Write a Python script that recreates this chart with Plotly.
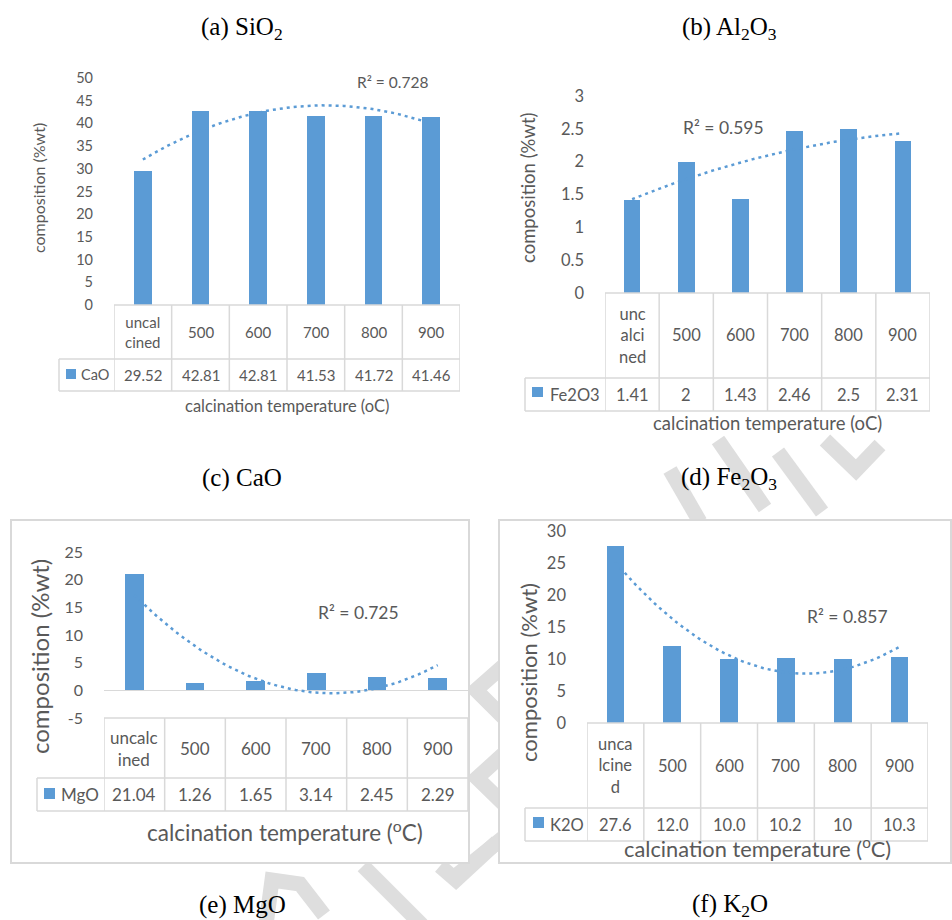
import numpy as np
import plotly.graph_objects as go

# ---------------- data ----------------
temps = ["uncalcined", "500", "600", "700", "800", "900"]

cao_values = [29.52, 42.81, 42.81, 41.53, 41.72, 41.46]
cao_labels = ["29.52", "42.81", "42.81", "41.53", "41.72", "41.46"]
cao_header = ["uncal<br>cined", "500", "600", "700", "800", "900"]

fe2o3_values = [1.41, 2.0, 1.43, 2.46, 2.5, 2.31]
fe2o3_labels = ["1.41", "2", "1.43", "2.46", "2.5", "2.31"]
fe2o3_header = ["unc<br>alci<br>ned", "500", "600", "700", "800", "900"]

mgo_values = [21.04, 1.26, 1.65, 3.14, 2.45, 2.29]
mgo_labels = ["21.04", "1.26", "1.65", "3.14", "2.45", "2.29"]
mgo_header = ["uncalc<br>ined", "500", "600", "700", "800", "900"]
mgo_ticks = [-5, 0, 5, 10, 15, 20, 25]
mgo_ticktext = ["-5", "0", "5", "10", "15", "20", "25"]

k2o_values = [27.6, 12.0, 10.0, 10.2, 10.0, 10.3]
k2o_labels = ["27.6", "12.0", "10.0", "10.2", "10", "10.3"]
k2o_header = ["unca<br>lcine<br>d", "500", "600", "700", "800", "900"]

series_names = ["CaO", "Fe2O3", "MgO", "K2O"]
r2_texts = ["R² = 0.728", "R² = 0.595", "R² = 0.725", "R² = 0.857"]
panel_titles = ["(a) SiO<sub>2</sub>", "(b) Al<sub>2</sub>O<sub>3</sub>", "(c) CaO",
                "(d) Fe<sub>2</sub>O<sub>3</sub>", "(e) MgO", "(f) K<sub>2</sub>O"]

# ---------------- style / layout ----------------
W, H = 952, 920
BLUE = "#5B9BD5"
GRAY = "#595959"
LINE = "#D9D9D9"
WMARK = "#DEDEDE"
FONT = "Lato"
SERIF = "Liberation Serif"


def px(x):
    return x / W


def py(y):
    return 1 - y / H


panels = [
    dict(values=cao_values, labels=cao_labels, header=cao_header, name=series_names[0], r2=r2_texts[0],
         xdom=(114, 460), ypx=(305, 78), yrange=[0, 50], dtick=5, zeroline=False, ticks=None,
         ttop=305, thb=359, tdb=391, legleft=59, sq=(66, 369, 76, 379), legtext=79,
         ytitle=(38, 188), xtitle=(287, 406), xtitle_text="calcination temperature (oC)",
         r2pos=(392, 82), fs=dict(tick=14.5, table=15, yt=16, xt=16.5, r2=15.5, leg=14.5)),
    dict(values=fe2o3_values, labels=fe2o3_labels, header=fe2o3_header, name=series_names[1], r2=r2_texts[1],
         xdom=(605, 930), ypx=(293, 96), yrange=[0, 3], dtick=0.5, zeroline=False, ticks=None,
         ttop=293, thb=378, tdb=411, legleft=525, sq=(532, 387, 543, 397), legtext=548,
         ytitle=(528, 188), xtitle=(767, 423), xtitle_text="calcination temperature (oC)",
         r2pos=(723, 128), fs=dict(tick=16.5, table=16.5, yt=18.5, xt=18.5, r2=17.5, leg=16.5)),
    dict(values=mgo_values, labels=mgo_labels, header=mgo_header, name=series_names[2], r2=r2_texts[2],
         xdom=(104, 468), ypx=(718, 552), yrange=[-5, 25], dtick=5, zeroline=True,
         ticks=(mgo_ticks, mgo_ticktext),
         ttop=718, thb=778, tdb=811, legleft=37, sq=(44, 788, 55, 799), legtext=59,
         ytitle=(39, 657), xtitle=(285, 831), xtitle_text="calcination temperature (<sup>o</sup>C)",
         r2pos=(358, 612), fs=dict(tick=16, table=17, yt=24, xt=22.5, r2=17.5, leg=17)),
    dict(values=k2o_values, labels=k2o_labels, header=k2o_header, name=series_names[3], r2=r2_texts[3],
         xdom=(587, 928), ypx=(723, 531), yrange=[0, 30], dtick=5, zeroline=False, ticks=None,
         ttop=723, thb=808, tdb=841, legleft=525, sq=(533, 817, 544, 828), legtext=548,
         ytitle=(528, 673), xtitle=(757, 847), xtitle_text="calcination temperature (<sup>o</sup>C)",
         r2pos=(847, 616), fs=dict(tick=16.5, table=16.5, yt=22, xt=21.8, r2=17.5, leg=16.5)),
]

fig = go.Figure()
shapes = []
annotations = []

# light-grey watermark strokes (decorative), drawn first so the chart boxes hide them
wm_paths = [
    [(670, 470), (700, 522)],
    [(718, 440), (765, 508)],
    [(778, 452), (822, 512)],
    [(825, 440), (856, 470), (880, 445)],
    [(510, 660), (476, 690), (510, 724)],
    [(510, 748), (477, 778), (510, 810)],
    [(510, 832), (458, 874)],
    [(363, 866), (422, 925)],
    [(440, 866), (456, 880), (497, 842)],
    [(266, 925), (272, 880), (300, 884), (324, 915)],
]
for pts in wm_paths:
    path = "M " + " L ".join(f"{px(x):.5f},{py(y):.5f}" for x, y in pts)
    shapes.append(dict(type="path", xref="paper", yref="paper", path=path, layer="below",
                       line=dict(color=WMARK, width=15)))

# boxes (white) around lower two charts
shapes.append(dict(type="rect", xref="paper", yref="paper", x0=px(11), x1=px(469), y0=py(863), y1=py(520),
                   line=dict(color=LINE, width=2), fillcolor="white", layer="below"))
shapes.append(dict(type="rect", xref="paper", yref="paper", x0=px(499), x1=px(951), y0=py(863), y1=py(520),
                   line=dict(color=LINE, width=2), fillcolor="white", layer="below"))

for i, p in enumerate(panels, start=1):
    xa = "x" if i == 1 else f"x{i}"
    ya = "y" if i == 1 else f"y{i}"
    xpos = list(range(len(p["values"])))

    fig.add_trace(go.Bar(x=xpos, y=p["values"], width=0.31, marker=dict(color=BLUE, line=dict(width=0)),
                         xaxis=xa, yaxis=ya, showlegend=False, hoverinfo="skip"))

    # order-2 polynomial trendline fitted to the data (as in the spreadsheet chart)
    coef = np.polyfit(xpos, p["values"], 2)
    xs = np.linspace(0, len(xpos) - 1, 80)
    fig.add_trace(go.Scatter(x=xs, y=np.polyval(coef, xs), mode="lines",
                             line=dict(color=BLUE, width=2.5, dash="3px,4px"),
                             xaxis=xa, yaxis=ya, showlegend=False, hoverinfo="skip"))

    fs = p["fs"]
    xkey = "xaxis" if i == 1 else f"xaxis{i}"
    ykey = "yaxis" if i == 1 else f"yaxis{i}"
    fig.layout[xkey] = dict(domain=[px(p["xdom"][0]), px(p["xdom"][1])], range=[-0.5, 5.5],
                            showticklabels=False, showgrid=False, zeroline=False, showline=False,
                            ticks="", anchor=ya, fixedrange=True, automargin=False)
    ycfg = dict(domain=[py(p["ypx"][0]), py(p["ypx"][1])], range=p["yrange"],
                dtick=p["dtick"], tick0=0, showgrid=False, zeroline=p["zeroline"],
                zerolinecolor=LINE, zerolinewidth=1.3, showline=False, ticks="",
                ticklabelstandoff=20, tickfont=dict(family=FONT, size=fs["tick"], color=GRAY),
                anchor=xa, fixedrange=True, automargin=False)
    if p["ticks"] is not None:
        ycfg.update(tickmode="array", tickvals=p["ticks"][0], ticktext=p["ticks"][1])
    fig.layout[ykey] = ycfg

    xr = xa
    # table lines
    shapes.append(dict(type="line", xref=xr, yref="paper", x0=-0.5, x1=5.5, y0=py(p["ttop"]), y1=py(p["ttop"]),
                       line=dict(color=LINE, width=1.5)))
    for yy in (p["thb"], p["tdb"]):
        shapes.append(dict(type="line", xref="paper", yref="paper", x0=px(p["legleft"]), x1=px(p["xdom"][1]),
                           y0=py(yy), y1=py(yy), line=dict(color=LINE, width=1.5)))
    for k in range(7):
        shapes.append(dict(type="line", xref=xr, yref="paper", x0=k - 0.5, x1=k - 0.5,
                           y0=py(p["ttop"]), y1=py(p["tdb"]), line=dict(color=LINE, width=1.5)))
    shapes.append(dict(type="line", xref="paper", yref="paper", x0=px(p["legleft"]), x1=px(p["legleft"]),
                       y0=py(p["thb"]), y1=py(p["tdb"]), line=dict(color=LINE, width=1.5)))
    # legend key
    sx0, sy0, sx1, sy1 = p["sq"]
    shapes.append(dict(type="rect", xref="paper", yref="paper", x0=px(sx0), x1=px(sx1), y0=py(sy1), y1=py(sy0),
                       fillcolor=BLUE, line=dict(width=0)))
    annotations.append(dict(xref="paper", yref="paper", x=px(p["legtext"]), y=py((p["thb"] + p["tdb"]) / 2),
                            text=p["name"], showarrow=False, xanchor="left", yanchor="middle",
                            font=dict(family=FONT, size=fs["leg"], color=GRAY)))
    # table text
    for k in range(len(p["values"])):
        annotations.append(dict(xref=xr, yref="paper", x=k, y=py((p["ttop"] + p["thb"]) / 2),
                                text=p["header"][k], showarrow=False, xanchor="center", yanchor="middle",
                                font=dict(family=FONT, size=fs["table"], color=GRAY)))
        annotations.append(dict(xref=xr, yref="paper", x=k, y=py((p["thb"] + p["tdb"]) / 2),
                                text=p["labels"][k], showarrow=False, xanchor="center", yanchor="middle",
                                font=dict(family=FONT, size=fs["table"], color=GRAY)))
    # axis titles
    annotations.append(dict(xref="paper", yref="paper", x=px(p["ytitle"][0]), y=py(p["ytitle"][1]),
                            text="composition (%wt)", textangle=-90, showarrow=False,
                            xanchor="center", yanchor="middle",
                            font=dict(family=FONT, size=fs["yt"], color=GRAY)))
    annotations.append(dict(xref="paper", yref="paper", x=px(p["xtitle"][0]), y=py(p["xtitle"][1]),
                            text=p["xtitle_text"], showarrow=False, xanchor="center", yanchor="middle",
                            font=dict(family=FONT, size=fs["xt"], color=GRAY)))
    annotations.append(dict(xref="paper", yref="paper", x=px(p["r2pos"][0]), y=py(p["r2pos"][1]),
                            text=p["r2"], showarrow=False, xanchor="center", yanchor="middle",
                            font=dict(family=FONT, size=fs["r2"], color=GRAY)))

# figure captions
title_pos = [(242, 28), (729, 28), (242, 478), (729, 478), (242, 905), (730, 905)]
for t, (tx, ty) in zip(panel_titles, title_pos):
    annotations.append(dict(xref="paper", yref="paper", x=px(tx), y=py(ty), text=t, showarrow=False,
                            xanchor="center", yanchor="middle",
                            font=dict(family=SERIF, size=25, color="black")))

fig.update_layout(width=W, height=H, margin=dict(l=0, r=0, t=0, b=0, pad=0, autoexpand=False),
                  paper_bgcolor="white", plot_bgcolor="rgba(0,0,0,0)",
                  shapes=shapes, annotations=annotations, showlegend=False, bargap=0)

page_fix = (
    "document.documentElement.style.margin='0';document.documentElement.style.padding='0';"
    "document.documentElement.style.overflow='hidden';"
    "document.body.style.margin='0';document.body.style.padding='0';document.body.style.overflow='hidden';"
    "var g=document.querySelector('.plotly-graph-div');"
    "if(g){g.style.position='fixed';g.style.left='0px';g.style.top='0px';}"
)
fig.write_html("out.html", config={"displayModeBar": False}, post_script=page_fix)
